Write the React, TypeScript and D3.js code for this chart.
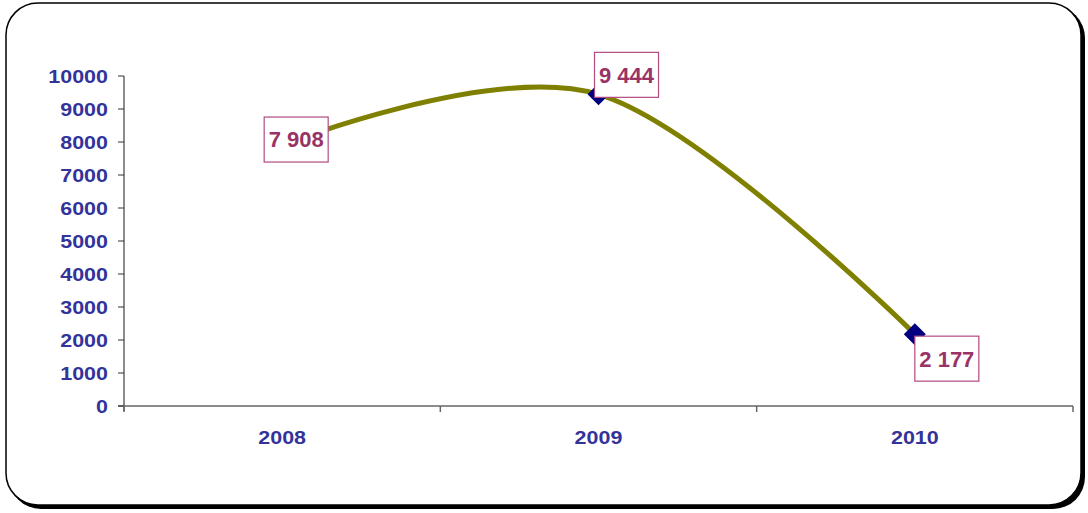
import * as d3 from "d3"

const years = ["2008", "2009", "2010"]
const values = [7908, 9444, 2177]
const labels = ["7 908", "9 444", "2 177"]
const yTicks = [0, 1000, 2000, 3000, 4000, 5000, 6000, 7000, 8000, 9000, 10000]

const W = 1088
const H = 513
const left = 124
const right = 1073
const top = 76
const bottom = 406

export default function App() {
  const x = d3.scaleBand<string>().domain(years).range([left, right])
  const y = d3.scaleLinear().domain([0, 10000]).range([bottom, top])
  const cx = (d: string) => (x(d) ?? 0) + x.bandwidth() / 2

  const pts: [number, number][] = years.map((d, i) => [cx(d), y(values[i])])
  const line = d3.line().curve(d3.curveCatmullRom.alpha(0))(pts) ?? ""

  const blue = "#333399"
  const font = "'Liberation Sans', Arial, sans-serif"
  // label box placement relative to its point
  const boxOff: [number, number][] = [[-18, -28], [-4, -42], [0, 2]]
  const boxW = 64
  const boxH = 45

  const bounds = [...years.map((d) => x(d) ?? 0), right]

  return (
    <svg width={W} height={H} style={{ position: "absolute", left: 0, top: 0 }} fontFamily={font}>
      <rect x={9} y={6} width={1076} height={503} rx={32} fill="#000" />
      <rect x={6} y={3} width={1075} height={502} rx={32} fill="#fff" stroke="#000" strokeWidth={1.5} />

      {/* axes */}
      <line x1={left} x2={left} y1={top} y2={bottom + 5} stroke="#666" strokeWidth={1.5} />
      <line x1={left - 6} x2={right} y1={bottom} y2={bottom} stroke="#666" strokeWidth={1.5} />
      {yTicks.map((t) => (
        <g key={t}>
          <line x1={left - 6} x2={left} y1={y(t)} y2={y(t)} stroke="#333" strokeWidth={1} />
          <text transform={`translate(108,${y(t)}) scale(1.13,1)`} dy="0.36em" textAnchor="end" fontSize={19} fontWeight="bold" fill={blue}>
            {t}
          </text>
        </g>
      ))}
      {bounds.map((b, i) => (
        <line key={i} x1={b} x2={b} y1={bottom} y2={bottom + 6} stroke="#666" strokeWidth={1.5} />
      ))}
      {years.map((d) => (
        <text key={d} transform={`translate(${cx(d)},444) scale(1.13,1)`} textAnchor="middle" fontSize={19} fontWeight="bold" fill={blue}>
          {d}
        </text>
      ))}

      <path d={line} fill="none" stroke="#808000" strokeWidth={5} strokeLinejoin="round" />
      {pts.map(([px, py], i) => (
        <path key={i} d={`M${px},${py - 11}L${px + 11},${py}L${px},${py + 11}L${px - 11},${py}Z`} fill="#000080" />
      ))}

      {pts.map(([px, py], i) => {
        const bx = px + boxOff[i][0]
        const by = py + boxOff[i][1]
        return (
          <g key={"l" + i}>
            <rect x={bx} y={by} width={boxW} height={boxH} fill="#fff" stroke="#b04a80" strokeWidth={1.2} />
            <text x={bx + boxW / 2} y={by + boxH / 2} dy="0.36em" textAnchor="middle" fontSize={22} fontWeight="bold" fill="#993366">
              {labels[i]}
            </text>
          </g>
        )
      })}
    </svg>
  )
}
